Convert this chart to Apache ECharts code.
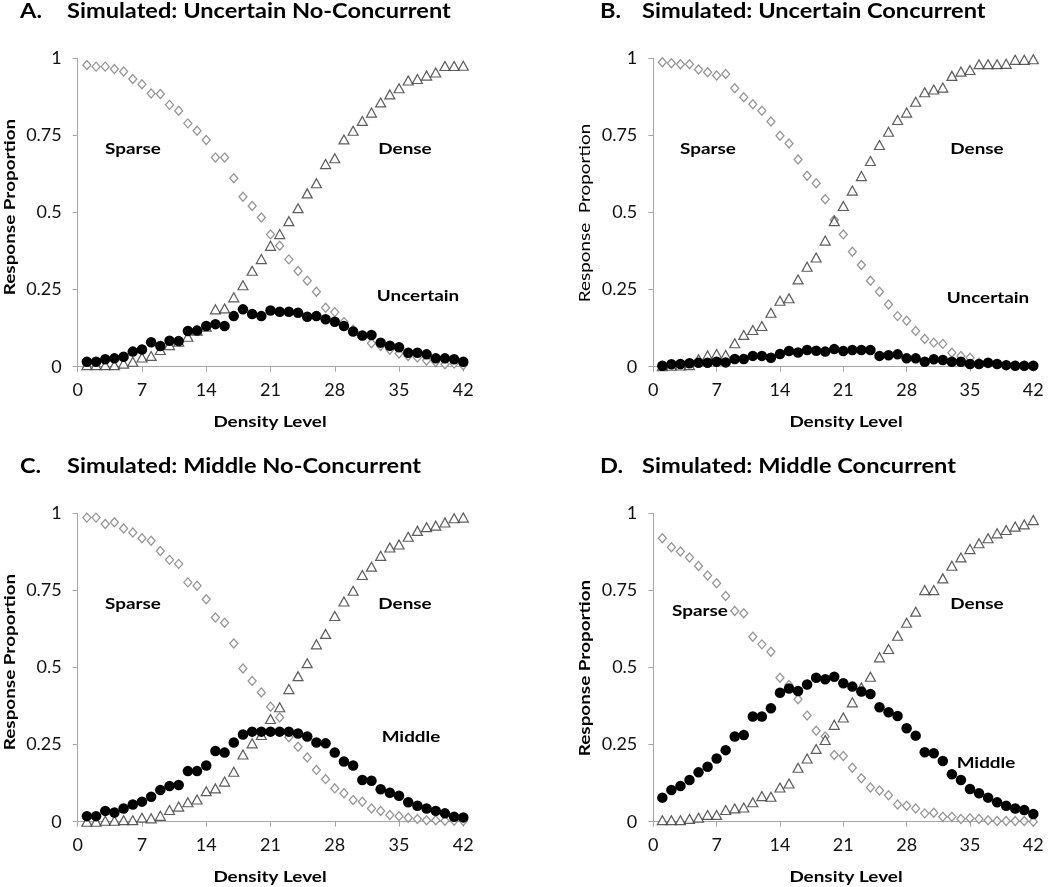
<!DOCTYPE html>
<html>
<head>
<meta charset="utf-8">
<script src="https://cdn.jsdelivr.net/npm/echarts@6/dist/echarts.min.js"></script>
<style>
html,body{margin:0;padding:0;background:#fff;}
#chart{width:1050px;height:887px;}
</style>
</head>
<body>
<div id="chart"></div>
<script>
const densityLevels = [1,2,3,4,5,6,7,8,9,10,11,12,13,14,15,16,17,18,19,20,21,22,23,24,25,26,27,28,29,30,31,32,33,34,35,36,37,38,39,40,41,42];
const xTicks = [0,7,14,21,28,35,42];
const yTicks = [0,0.25,0.5,0.75,1];

const aSparse = [0.978,0.973,0.973,0.965,0.957,0.933,0.916,0.886,0.884,0.849,0.830,0.789,0.765,0.735,0.678,0.678,0.611,0.551,0.521,0.484,0.429,0.392,0.348,0.310,0.279,0.243,0.191,0.177,0.145,0.120,0.100,0.076,0.067,0.055,0.043,0.035,0.030,0.020,0.015,0.008,0.010,0.005];
const aDense = [0.005,0.005,0.005,0.005,0.010,0.016,0.030,0.035,0.054,0.070,0.081,0.097,0.117,0.130,0.186,0.189,0.225,0.264,0.311,0.349,0.392,0.430,0.472,0.514,0.562,0.595,0.657,0.676,0.737,0.765,0.797,0.824,0.857,0.883,0.903,0.928,0.933,0.944,0.954,0.975,0.975,0.976];
const aUncertain = [0.016,0.016,0.024,0.027,0.032,0.049,0.056,0.079,0.067,0.084,0.083,0.116,0.117,0.132,0.138,0.132,0.164,0.186,0.171,0.164,0.182,0.178,0.178,0.175,0.162,0.164,0.154,0.146,0.132,0.114,0.101,0.103,0.078,0.068,0.063,0.045,0.045,0.040,0.027,0.027,0.024,0.016];

const bSparse = [0.987,0.984,0.981,0.981,0.964,0.955,0.944,0.949,0.903,0.874,0.851,0.830,0.795,0.749,0.724,0.672,0.619,0.595,0.543,0.476,0.429,0.373,0.330,0.279,0.243,0.202,0.164,0.149,0.116,0.090,0.078,0.074,0.045,0.035,0.029,0.013,0.011,0.009,0.005,0.003,0.003,0.002];
const bDense = [0.002,0.003,0.004,0.005,0.024,0.036,0.041,0.038,0.076,0.103,0.119,0.132,0.175,0.214,0.222,0.283,0.324,0.354,0.409,0.472,0.521,0.571,0.618,0.667,0.719,0.762,0.800,0.824,0.859,0.890,0.899,0.905,0.943,0.957,0.962,0.981,0.981,0.981,0.982,0.995,0.995,0.997];
const bUncertain = [0.003,0.008,0.009,0.011,0.013,0.013,0.016,0.014,0.025,0.025,0.035,0.035,0.029,0.041,0.051,0.046,0.054,0.052,0.049,0.057,0.051,0.054,0.054,0.054,0.035,0.037,0.040,0.027,0.027,0.016,0.024,0.022,0.016,0.016,0.009,0.009,0.013,0.009,0.005,0.003,0.003,0.003];

const cSparse = [0.986,0.986,0.965,0.971,0.951,0.938,0.919,0.911,0.878,0.849,0.836,0.776,0.765,0.721,0.662,0.645,0.578,0.497,0.456,0.419,0.373,0.338,0.274,0.243,0.208,0.168,0.138,0.108,0.092,0.070,0.065,0.043,0.035,0.022,0.018,0.013,0.009,0.005,0.005,0.003,0.003,0.002];
const cDense = [0.000,0.000,0.003,0.003,0.005,0.005,0.013,0.011,0.019,0.038,0.049,0.063,0.072,0.099,0.108,0.130,0.162,0.218,0.254,0.281,0.333,0.371,0.430,0.472,0.514,0.575,0.609,0.667,0.714,0.749,0.800,0.827,0.862,0.889,0.899,0.924,0.943,0.955,0.960,0.970,0.984,0.986];
const cMiddle = [0.018,0.018,0.035,0.030,0.043,0.056,0.065,0.081,0.103,0.116,0.119,0.164,0.164,0.182,0.229,0.224,0.257,0.283,0.292,0.292,0.292,0.292,0.292,0.286,0.276,0.257,0.254,0.224,0.195,0.182,0.135,0.133,0.105,0.094,0.084,0.063,0.052,0.043,0.035,0.027,0.016,0.014];

const dSparse = [0.919,0.890,0.876,0.857,0.829,0.798,0.773,0.732,0.683,0.676,0.600,0.575,0.551,0.467,0.443,0.397,0.344,0.295,0.276,0.216,0.213,0.175,0.141,0.111,0.101,0.086,0.056,0.052,0.043,0.027,0.029,0.016,0.016,0.009,0.011,0.009,0.005,0.002,0.002,0.002,0.002,0.000];
const dDense = [0.005,0.005,0.005,0.009,0.013,0.022,0.022,0.038,0.043,0.046,0.063,0.083,0.081,0.111,0.124,0.175,0.205,0.236,0.265,0.314,0.338,0.387,0.435,0.470,0.533,0.560,0.603,0.645,0.681,0.751,0.751,0.789,0.830,0.857,0.884,0.903,0.919,0.935,0.946,0.957,0.964,0.978];
const dMiddle = [0.078,0.103,0.116,0.135,0.160,0.178,0.205,0.232,0.276,0.281,0.341,0.341,0.368,0.418,0.432,0.424,0.445,0.467,0.462,0.470,0.449,0.438,0.422,0.414,0.371,0.355,0.343,0.303,0.279,0.225,0.222,0.197,0.154,0.135,0.106,0.092,0.078,0.063,0.052,0.043,0.038,0.025];

const panelLetters = ['A.','B.','C.','D.'];
const panelTitles = ['Simulated: Uncertain No-Concurrent','Simulated: Uncertain Concurrent','Simulated: Middle No-Concurrent','Simulated: Middle Concurrent'];
const thirdNames = ['Uncertain','Uncertain','Middle','Middle'];
const xAxisTitle = 'Density Level';
const yAxisTitles = ['Response Proportion','Response  Proportion','Response Proportion','Response Proportion'];

const panels = [
  {sparse:aSparse, dense:aDense, third:aUncertain},
  {sparse:bSparse, dense:bDense, third:bUncertain},
  {sparse:cSparse, dense:cDense, third:cMiddle},
  {sparse:dSparse, dense:dDense, third:dMiddle}
];

// layout (pixels)
const grids = [
  {left:77.7, top:58.3, width:385.6, height:308.4},
  {left:653.3, top:58.3, width:380, height:308.4},
  {left:77.7, top:513.3, width:385.6, height:308.4},
  {left:653.3, top:513.3, width:380, height:308.4}
];
const FONT = 'Lato, "Open Sans", sans-serif';
const axisColor = '#a6a6a6';
const txt = '#111';
const SX = 1.18; // horizontal stretch of the reference's text

function pairs(arr){ return densityLevels.map((x,i)=>[x,arr[i]]); }

const xAxes = [], yAxes = [], series = [];
grids.forEach((g,i)=>{
  xAxes.push({
    type:'value', gridIndex:i, min:xTicks[0], max:xTicks[xTicks.length-1], interval:7,
    axisLine:{show:true, lineStyle:{color:axisColor, width:1}},
    axisTick:{show:true, length:5, lineStyle:{color:axisColor}},
    splitLine:{show:false},
    axisLabel:{color:txt, fontFamily:FONT, fontSize:18, margin:14}
  });
  yAxes.push({
    type:'value', gridIndex:i, min:yTicks[0], max:yTicks[yTicks.length-1], interval:0.25,
    axisLine:{show:true, lineStyle:{color:axisColor, width:1}},
    axisTick:{show:true, length:5, lineStyle:{color:axisColor}},
    splitLine:{show:false},
    axisLabel:{color:txt, fontFamily:FONT, fontSize:18, margin:16}
  });
  const p = panels[i];
  series.push({
    name:'Sparse', type:'scatter', xAxisIndex:i, yAxisIndex:i, data:pairs(p.sparse),
    symbol:'diamond', symbolSize:[8,9],
    itemStyle:{color:'#fff', borderColor:'#7a7a7a', borderWidth:1.3}, z:2
  });
  series.push({
    name:'Dense', type:'scatter', xAxisIndex:i, yAxisIndex:i, data:pairs(p.dense),
    symbol:'triangle', symbolSize:[10,9],
    itemStyle:{color:'#fff', borderColor:'#333', borderWidth:1.2}, z:3
  });
  series.push({
    name:thirdNames[i], type:'scatter', xAxisIndex:i, yAxisIndex:i, data:pairs(p.third),
    symbol:'circle', symbolSize:10.5,
    itemStyle:{color:'#000', opacity:1}, z:4
  });
});

// annotation text positions
const annot = [
  [['Sparse',133,149],['Dense',405,149],['Uncertain',418,296]],
  [['Sparse',708,149],['Dense',977,149],['Uncertain',988,298]],
  [['Sparse',133,604],['Dense',405,604],['Middle',411,737]],
  [['Sparse',700,611],['Dense',977,604],['Middle',986,763]]
];
const titlePos = [[20,67,12],[600,642,12],[20,67,467],[600,642,467]];
const yTitlePos = [[10,207],[585,213],[10,662],[585,668]];
const xTitlePos = [[270,422],[846,422],[270,877],[846,877]];

const graphic = [];
for(let i=0;i<4;i++){
  const t = titlePos[i];
  graphic.push({type:'text', x:t[0], y:t[2], scaleX:SX, style:{text:panelLetters[i], fill:'#000', font:'bold 20px '+FONT, textAlign:'left', textVerticalAlign:'middle'}});
  graphic.push({type:'text', x:t[1], y:t[2], scaleX:SX, style:{text:panelTitles[i], fill:'#000', font:'bold 20px '+FONT, textAlign:'left', textVerticalAlign:'middle'}});
  annot[i].forEach(a=>{
    graphic.push({type:'text', x:a[1], y:a[2], scaleX:SX, style:{text:a[0], fill:'#000', font:'bold 16px '+FONT, textAlign:'center', textVerticalAlign:'middle'}, z:10});
  });
  graphic.push({type:'text', x:yTitlePos[i][0], y:yTitlePos[i][1], rotation:Math.PI/2, scaleX:SX,
    style:{text:yAxisTitles[i], fill:'#000', font:(i===1?'16px ':'bold 16px ')+FONT, textAlign:'center', textVerticalAlign:'middle'}});
  graphic.push({type:'text', x:xTitlePos[i][0], y:xTitlePos[i][1], scaleX:SX,
    style:{text:xAxisTitle, fill:'#000', font:'bold 16px '+FONT, textAlign:'center', textVerticalAlign:'middle'}});
}

const chart = echarts.init(document.getElementById('chart'), null, {renderer:'canvas'});
chart.setOption({
  animation:false,
  backgroundColor:'#fff',
  grid:grids.map(g=>Object.assign({containLabel:false}, g)),
  xAxis:xAxes,
  yAxis:yAxes,
  series:series,
  graphic:graphic
});
</script>
</body>
</html>
